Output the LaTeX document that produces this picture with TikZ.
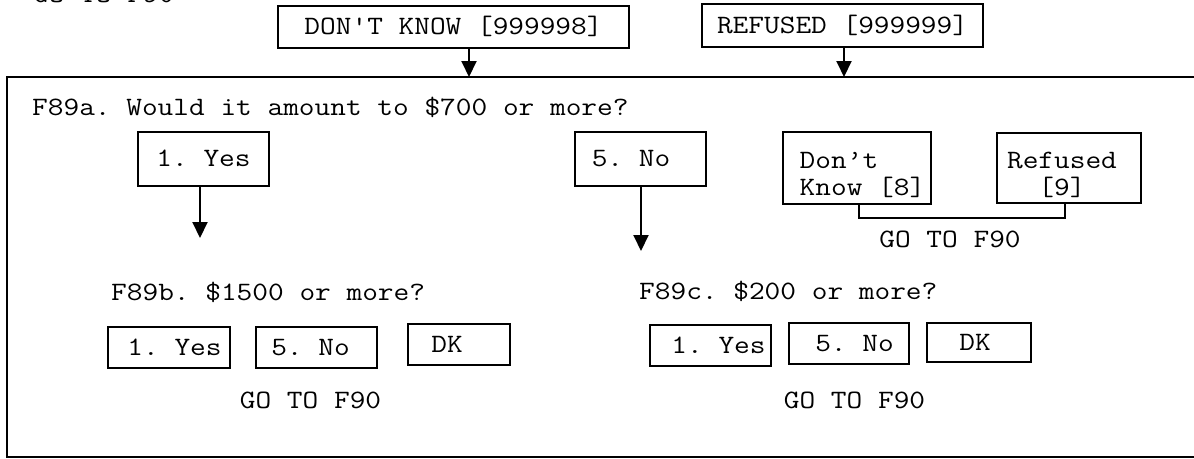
\documentclass[tikz,border=0pt]{standalone}
\usepackage{fontspec}
\setmonofont{Latin Modern Mono}[FakeStretch=1.15]
\usetikzlibrary{arrows.meta}
\begin{document}
\begin{tikzpicture}[x=1pt,y=-1pt,
  every node/.style={font=\ttfamily\fontsize{26.5}{27}\selectfont, inner sep=0pt},
  box/.style={draw, line width=2.4pt, text height=15pt, text depth=0pt},
  boxtwo/.style={draw, line width=2.4pt, text height=54pt, text depth=0pt},
  arr/.style={line width=2pt, -{Triangle[length=16pt,width=15pt]}},
  txt/.style={anchor=base west},
  gonode/.style={anchor=base},
  frame/.style={line width=2pt},
]
\useasboundingbox (0,0) rectangle (1194,458);

% top
\node[txt] (g0) at (33,2.5) {GO TO F90};
\node[box, minimum width=351pt, minimum height=42pt] (dk) at (453.5,27) {DON'T KNOW [999998]};
\node[box, minimum width=281pt, minimum height=43pt] (rf) at (842.5,25.5) {REFUSED [999999]};
\coordinate (t1) at (469,77);
\coordinate (t2) at (844,77);
\draw[arr] (dk.south -| t1) -- (t1);
\draw[arr] (rf.south -| t2) -- (t2);

% frame
\draw[frame] (1200,77) -- (6.5,77) -- (6.5,457) -- (1200,457);

% F89a
\node[txt] (qa) at (32,115) {F89a. Would it amount to \$700 or more?};
\node[box, minimum width=131pt, minimum height=54pt] (ay) at (203.5,159) {1. Yes};
\node[box, minimum width=131pt, minimum height=54pt] (an) at (640.5,159) {5. No\hspace*{19pt}};
\node[boxtwo, align=left, minimum width=148pt, minimum height=72pt] (adk) at (857,168) {\hspace*{11pt}Don’t\\\hspace*{11pt}Know [8]};
\node[boxtwo, align=center, minimum width=144pt, minimum height=70pt] (arf) at (1069,168) {Refused\hspace*{14pt}\\{[9]}\hspace*{14pt}};
\coordinate (bl) at (859,217.5);
\coordinate (br) at (1065,217.5);
\draw[frame] (adk.south -| bl) -- (bl) -- (br) -- (arf.south -| br);
\node[gonode] (g1) at (950,247) {GO TO F90};

\coordinate (ta) at (200,238);
\coordinate (tb) at (641,251);
\draw[arr] (ay.south -| ta) -- (ta);
\draw[arr] (an.south -| tb) -- (tb);

% F89b
\node[txt] (qb) at (111,300) {F89b. \$1500 or more?};
\node[box, minimum width=122pt, minimum height=41pt] (by) at (169,347.5) {\hspace*{11pt}1. Yes};
\node[box, minimum width=121pt, minimum height=41pt] (bn) at (316.5,347.5) {5. No\hspace*{12pt}};
\node[box, minimum width=102pt, minimum height=41pt] (bdk) at (459,344.5) {DK\hspace*{24pt}};
\node[gonode] (g2) at (310.5,408) {GO TO F90};

% F89c
\node[txt] (qc) at (639,299) {F89c. \$200 or more?};
\node[box, minimum width=121pt, minimum height=41pt] (cy) at (710.5,345.5) {\hspace*{16pt}1. Yes};
\node[box, minimum width=120pt, minimum height=41pt] (cn) at (849,343.5) {\hspace*{11pt}5. No};
\node[box, minimum width=104pt, minimum height=39pt] (cdk) at (979,342.5) {DK\hspace*{8pt}};
\node[gonode] (g3) at (854.5,408) {GO TO F90};
\end{tikzpicture}
\end{document}
